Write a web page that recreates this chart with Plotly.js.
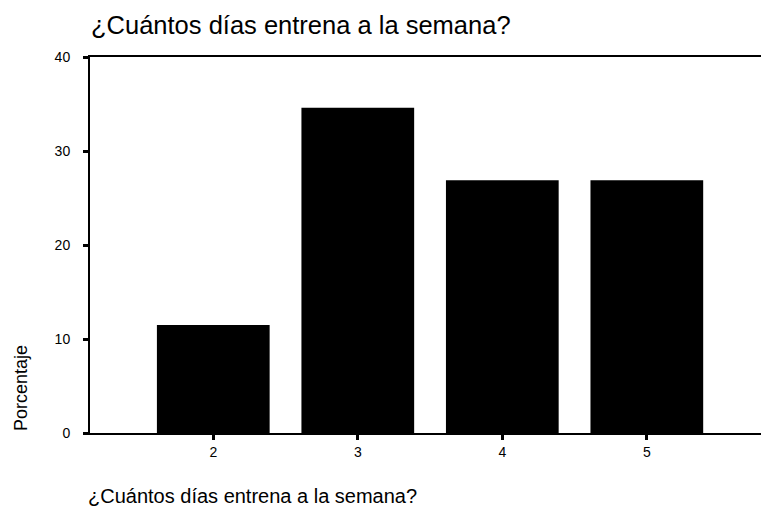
<!DOCTYPE html>
<html>
<head>
<meta charset="utf-8">
<script src="https://cdn.plot.ly/plotly-3.0.1.min.js"></script>
<style>html,body{margin:0;padding:0;background:#fff;}#chart{width:761px;height:506px;}</style>
</head>
<body>
<div id="chart"></div>
<script>
const categories = [2, 3, 4, 5];
const percentages = [11.5, 34.6, 26.9, 26.9];
const yTickValues = [0, 10, 20, 30, 40];
const yTickLabels = ["0", "10", "20", "30", "40"];
const chartTitle = "¿Cuántos días entrena a la semana?";
const xTitle = "¿Cuántos días entrena a la semana?";
const yTitle = "Porcentaje";

const FONT = "Arial, 'Liberation Sans', sans-serif";

const data = [{
  type: "bar",
  x: categories,
  y: percentages,
  width: 0.78,
  marker: { color: "#000000", line: { width: 0 } },
  hoverinfo: "skip"
}];

const layout = {
  width: 761,
  height: 506,
  margin: { l: 90, r: 0, t: 57, b: 73, pad: 0 },
  paper_bgcolor: "#ffffff",
  plot_bgcolor: "#ffffff",
  showlegend: false,
  font: { family: FONT, color: "#000000" },
  title: {
    text: chartTitle,
    font: { family: FONT, size: 25.5, color: "#000000" },
    xref: "container", yref: "container",
    x: 91 / 761, xanchor: "left",
    y: 1 - 25 / 506, yanchor: "middle"
  },
  xaxis: {
    range: [1.147, 5.79],
    tickmode: "array",
    tickvals: categories,
    ticktext: categories.map(String),
    ticks: "outside",
    ticklen: 5,
    tickwidth: 3,
    tickcolor: "#000000",
    tickfont: { family: FONT, size: 14, color: "#000000" },
    showline: true,
    linecolor: "#000000",
    linewidth: 2,
    mirror: true,
    showgrid: false,
    zeroline: false,
    fixedrange: true
  },
  yaxis: {
    range: [0, 40],
    tickmode: "array",
    tickvals: yTickValues,
    ticktext: yTickLabels,
    ticks: "outside",
    ticklen: 5,
    tickwidth: 3,
    tickcolor: "#000000",
    tickfont: { family: FONT, size: 14, color: "#000000" },
    ticklabelstandoff: 10,
    showline: true,
    linecolor: "#000000",
    linewidth: 2,
    showgrid: false,
    zeroline: false,
    fixedrange: true
  },
  annotations: [
    {
      text: yTitle,
      xref: "paper", yref: "paper",
      x: (21 - 90) / 671, y: (433 - 388) / 376,
      xanchor: "center", yanchor: "middle",
      textangle: -90,
      showarrow: false,
      font: { family: FONT, size: 18, color: "#000000" }
    },
    {
      text: xTitle,
      xref: "paper", yref: "paper",
      x: (86 - 90) / 671, y: (433 - 496) / 376,
      xanchor: "left", yanchor: "middle",
      showarrow: false,
      font: { family: FONT, size: 20, color: "#000000" }
    }
  ]
};

Plotly.newPlot("chart", data, layout, { staticPlot: true, displayModeBar: false });
</script>
</body>
</html>
